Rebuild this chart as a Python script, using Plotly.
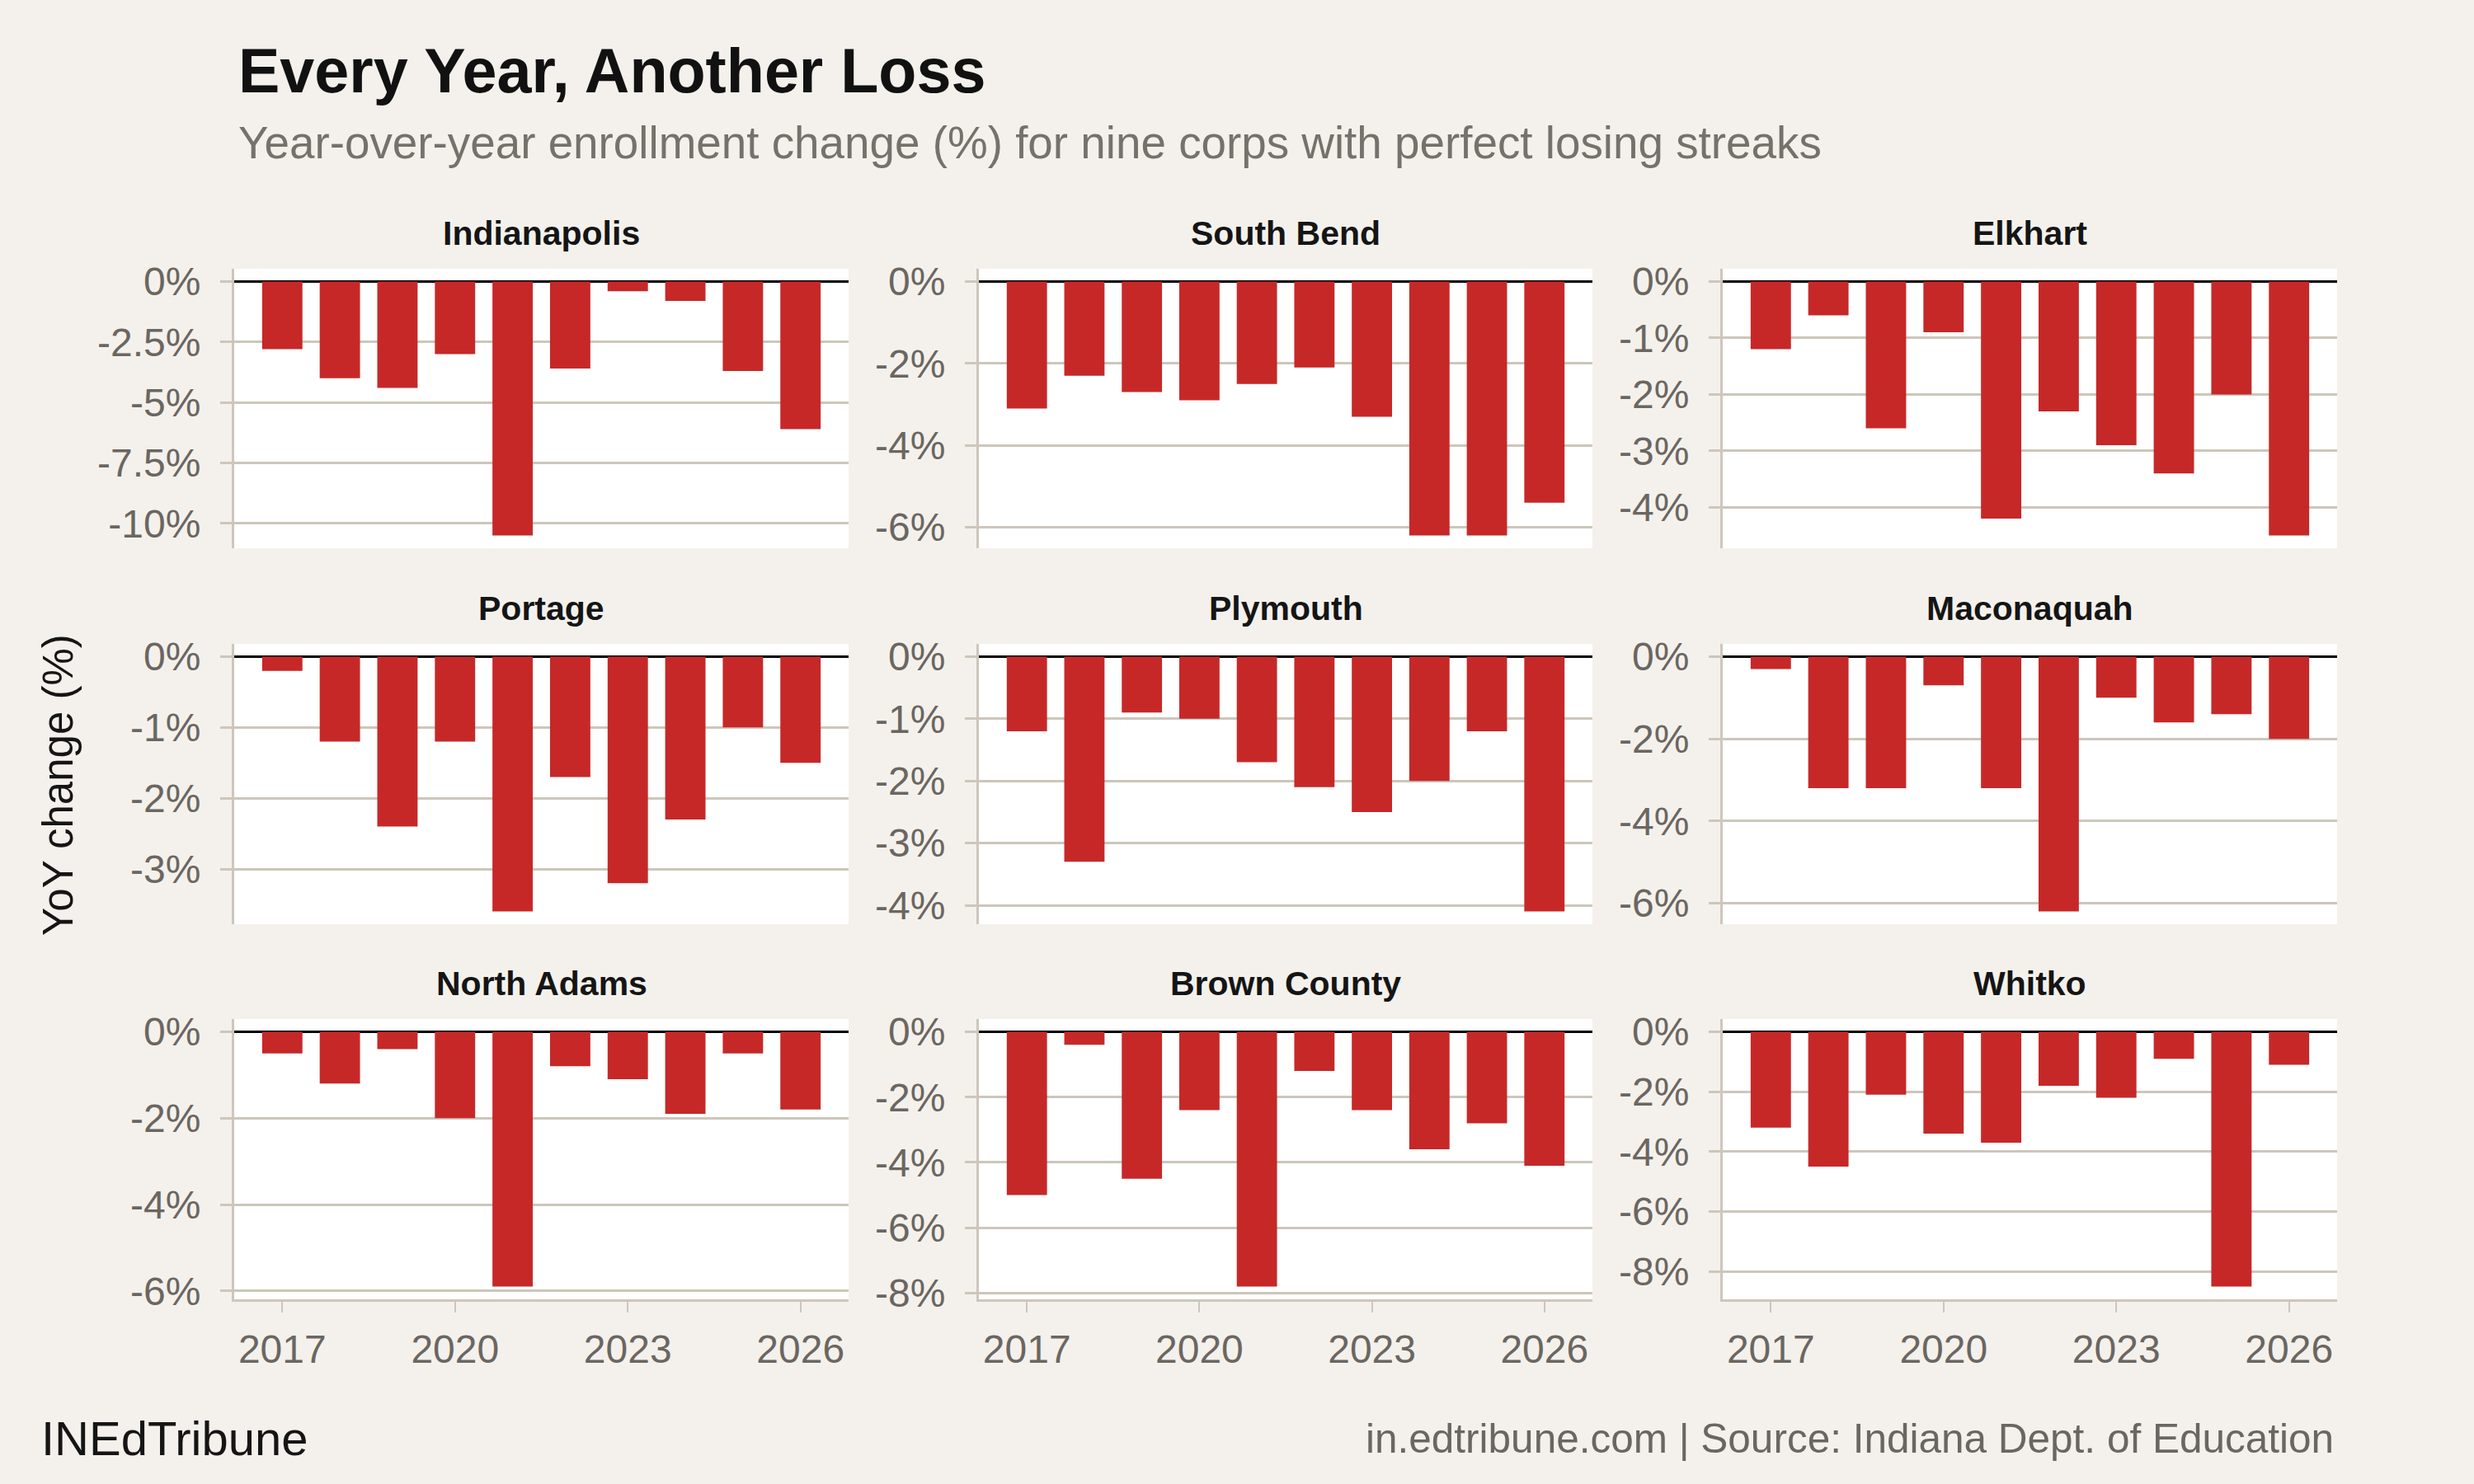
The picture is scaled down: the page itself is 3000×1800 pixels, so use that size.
import plotly.graph_objects as go

# ---------------- data ----------------
years = [2017, 2018, 2019, 2020, 2021, 2022, 2023, 2024, 2025, 2026]
year_ticks = [2017, 2020, 2023, 2026]
year_labels = ["2017", "2020", "2023", "2026"]

districts = ["Indianapolis", "South Bend", "Elkhart",
             "Portage", "Plymouth", "Maconaquah",
             "North Adams", "Brown County", "Whitko"]

indianapolis = [-2.8, -4.0, -4.4, -3.0, -10.5, -3.6, -0.4, -0.8, -3.7, -6.1]
south_bend = [-3.1, -2.3, -2.7, -2.9, -2.5, -2.1, -3.3, -6.2, -6.2, -5.4]
elkhart = [-1.2, -0.6, -2.6, -0.9, -4.2, -2.3, -2.9, -3.4, -2.0, -4.5]
portage = [-0.2, -1.2, -2.4, -1.2, -3.6, -1.7, -3.2, -2.3, -1.0, -1.5]
plymouth = [-1.2, -3.3, -0.9, -1.0, -1.7, -2.1, -2.5, -2.0, -1.2, -4.1]
maconaquah = [-0.3, -3.2, -3.2, -0.7, -3.2, -6.2, -1.0, -1.6, -1.4, -2.0]
north_adams = [-0.5, -1.2, -0.4, -2.0, -5.9, -0.8, -1.1, -1.9, -0.5, -1.8]
brown_county = [-5.0, -0.4, -4.5, -2.4, -7.8, -1.2, -2.4, -3.6, -2.8, -4.1]
whitko = [-3.2, -4.5, -2.1, -3.4, -3.7, -1.8, -2.2, -0.9, -8.5, -1.1]

series = [indianapolis, south_bend, elkhart, portage, plymouth,
          maconaquah, north_adams, brown_county, whitko]

ticks_indianapolis = [0, -2.5, -5, -7.5, -10]
labels_indianapolis = ["0%", "-2.5%", "-5%", "-7.5%", "-10%"]
ticks_2_to_6 = [0, -2, -4, -6]
labels_2_to_6 = ["0%", "-2%", "-4%", "-6%"]
ticks_1_to_4 = [0, -1, -2, -3, -4]
labels_1_to_4 = ["0%", "-1%", "-2%", "-3%", "-4%"]
ticks_1_to_3 = [0, -1, -2, -3]
labels_1_to_3 = ["0%", "-1%", "-2%", "-3%"]
ticks_2_to_8 = [0, -2, -4, -6, -8]
labels_2_to_8 = ["0%", "-2%", "-4%", "-6%", "-8%"]

panel_ticks = [
    (ticks_indianapolis, labels_indianapolis),
    (ticks_2_to_6, labels_2_to_6),
    (ticks_1_to_4, labels_1_to_4),
    (ticks_1_to_3, labels_1_to_3),
    (ticks_1_to_4, labels_1_to_4),
    (ticks_2_to_6, labels_2_to_6),
    (ticks_2_to_6, labels_2_to_6),
    (ticks_2_to_8, labels_2_to_8),
    (ticks_2_to_8, labels_2_to_8),
]

title_text = "Every Year, Another Loss"
subtitle_text = "Year-over-year enrollment change (%) for nine corps with perfect losing streaks"
y_title = "YoY change (%)"
footer_left = "INEdTribune"
footer_right = "in.edtribune.com | Source: Indiana Dept. of Education"

# ---------------- style ----------------
W, H = 3000, 1800
FONT = "Liberation Sans, Arial, Helvetica, sans-serif"
BG = "#f4f1ec"
GRID = "#cdc6bb"
RED = "#c62828"
TICKGRAY = "#6b6661"
DARK = "#151515"

cols_px = [(284, 1029), (1187, 1931), (2089, 2834)]
rows_px = [(326, 665), (781, 1121), (1236, 1576)]
title_rows_px = [283, 738, 1193]

fig = go.Figure()
annotations = []

for i, (name, vals) in enumerate(zip(districts, series)):
    r, c = divmod(i, 3)
    k = "" if i == 0 else str(i + 1)
    xa, ya = "x" + k, "y" + k
    fig.add_trace(go.Bar(x=years, y=vals, marker=dict(color=RED, line=dict(width=0)),
                         width=0.7, xaxis=xa, yaxis=ya, showlegend=False,
                         hovertemplate="%{x}: %{y}%<extra>" + name + "</extra>"))
    x0, x1 = cols_px[c]
    y0, y1 = rows_px[r]
    mn = min(vals)
    yr = [mn - 0.05 * abs(mn), 0.05 * abs(mn)]
    tv, tt = panel_ticks[i]
    bottom = (r == 2)
    fig.layout["xaxis" + k] = dict(
        domain=[x0 / W, x1 / W], anchor=ya, range=[2016.165, 2026.835],
        tickvals=year_ticks, ticktext=year_labels,
        showticklabels=bottom, ticks="outside" if bottom else "",
        ticklen=13, tickwidth=2, tickcolor=GRID,
        showline=bottom, linecolor=GRID, linewidth=3,
        showgrid=False, zeroline=False, ticklabelstandoff=3,
        tickfont=dict(family=FONT, size=48, color=TICKGRAY), automargin=False,
    )
    fig.layout["yaxis" + k] = dict(
        domain=[1 - y1 / H, 1 - y0 / H], anchor=xa, range=yr,
        tickvals=tv, ticktext=tt, ticks="outside", ticklen=14, tickwidth=3,
        tickcolor=GRID, showline=True, linecolor=GRID, linewidth=3,
        showgrid=True, gridcolor=GRID, gridwidth=3,
        zeroline=True, zerolinecolor="#000000", zerolinewidth=3,
        ticklabelstandoff=14,
        tickfont=dict(family=FONT, size=48, color=TICKGRAY), automargin=False,
    )
    annotations.append(dict(text="<b>" + name + "</b>", x=(x0 + x1) / 2 / W,
                            y=1 - title_rows_px[r] / H, xref="paper", yref="paper",
                            xanchor="center", yanchor="middle", showarrow=False,
                            font=dict(family=FONT, size=41, color=DARK)))

annotations += [
    dict(text="<b>" + title_text + "</b>", x=287 / W, y=1 - 86 / H, xref="paper", yref="paper",
         xanchor="left", yanchor="middle", showarrow=False,
         font=dict(family=FONT, size=75.5, color="#111111")),
    dict(text=subtitle_text, x=287 / W, y=1 - 173 / H, xref="paper", yref="paper",
         xanchor="left", yanchor="middle", showarrow=False,
         font=dict(family=FONT, size=54.8, color="#76716b")),
    dict(text=y_title, x=71 / W, y=1 - 952 / H, xref="paper", yref="paper",
         xanchor="center", yanchor="middle", showarrow=False, textangle=-90,
         font=dict(family=FONT, size=51, color=DARK)),
    dict(text=footer_left, x=48 / W, y=1 - 1744 / H, xref="paper", yref="paper",
         xanchor="left", yanchor="middle", showarrow=False,
         font=dict(family=FONT, size=58, color=DARK)),
    dict(text=footer_right, x=2832 / W, y=1 - 1744 / H, xref="paper", yref="paper",
         xanchor="right", yanchor="middle", showarrow=False,
         font=dict(family=FONT, size=49.5, color="#6b6661")),
]

fig.update_layout(
    width=W, height=H, margin=dict(l=0, r=0, t=0, b=0),
    paper_bgcolor=BG, plot_bgcolor="#ffffff",
    bargap=0.3, annotations=annotations, showlegend=False,
    font=dict(family=FONT),
)

fig.write_html("out.html",
               config={"displayModeBar": False},
               post_script="document.body.style.margin='0';document.body.style.overflow='hidden';")
